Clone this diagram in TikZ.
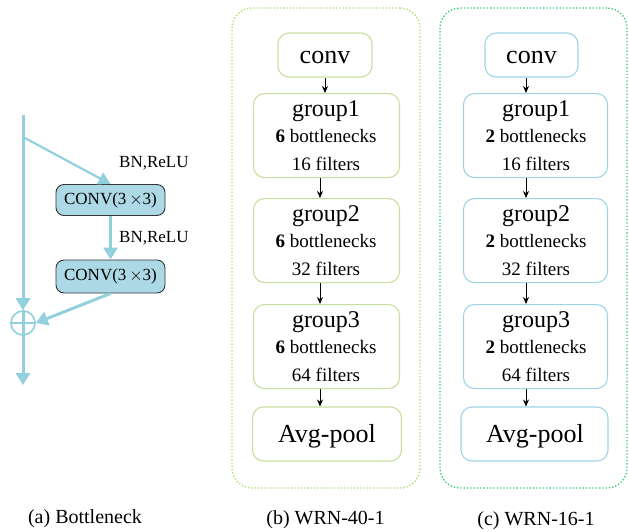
\documentclass[tikz,border=0pt]{standalone}
\usepackage{fontspec}
\setmainfont{Liberation Serif}
\usetikzlibrary{arrows.meta}
\definecolor{aline}{RGB}{146,208,222}
\definecolor{afill}{RGB}{173,216,230}
\definecolor{bbord}{RGB}{200,222,160}
\definecolor{cbord}{RGB}{160,212,228}
\definecolor{bdot}{RGB}{165,222,105}
\definecolor{cdot}{RGB}{50,200,110}
\newcommand{\fsbig}{\fontsize{26}{30}\selectfont}
\newcommand{\fsgrp}{\fontsize{24}{28}\selectfont}
\newcommand{\fssmall}{\fontsize{19}{22}\selectfont}
\newcommand{\fscap}{\fontsize{20}{24}\selectfont}
\newcommand{\fsa}{\fontsize{17}{20}\selectfont}
\tikzset{
  x=1pt, y=-1pt,
  convbox/.style={draw=black!80, fill=afill, rounded corners=8pt, line width=0.9pt, minimum width=109pt, minimum height=31pt, inner sep=0pt, font=\fsa},
  bluearrow/.style={draw=aline, line width=3pt, -{Triangle[width=14pt,length=12pt]}},
  bluethin/.style={draw=aline, line width=2.2pt, -{Triangle[width=13pt,length=12pt]}},
  alabel/.style={anchor=base west, font=\fsa, inner sep=0pt},
  bbox/.style={draw=bbord, rounded corners=11pt, line width=1.1pt, inner sep=0pt},
  cbox/.style={draw=cbord, rounded corners=11pt, line width=1.1pt, inner sep=0pt},
  frameb/.style={draw=bdot, dotted, line width=1.3pt, rounded corners=20pt},
  framec/.style={draw=cdot, dotted, line width=1.3pt, rounded corners=20pt},
  txt/.style={anchor=base, inner sep=0pt},
  flow/.style={draw=black, line width=0.8pt, -{Stealth[width=6pt,length=7pt]}},
  capt/.style={anchor=base, inner sep=0pt, font=\fscap}
}
\begin{document}
\begin{tikzpicture}
\useasboundingbox (0,0) rectangle (629,531);
% ---------- panel (a)
\coordinate (top) at (23,115);
\coordinate (split) at (23,137);
\coordinate (bottom) at (23,385);
\node[convbox] (c1) at (110.5,200) {CONV(3\,$\times$3)};
\node[convbox, minimum height=33pt] (c2) at (110.5,276.5) {CONV(3\,$\times$3)};
\node[draw=aline, line width=1.6pt, circle, minimum size=24pt, inner sep=0pt] (sum) at (23,323) {};
\draw[draw=aline, line width=1.6pt] (sum.west) -- (sum.east);
\draw[bluearrow] (top) -- (sum.north);
\draw[draw=aline, line width=3pt] (sum.north) -- (sum.south);
\draw[bluearrow] (sum.south) -- (bottom);
\draw[bluethin] (split) -- (c1.north);
\draw[bluearrow] (c1.south) -- (c2.north);
\draw[bluearrow] (c2.south) -- (sum.east);
\node[alabel] (l1) at (119,167) {BN,ReLU};
\node[alabel] (l2) at (119,242) {BN,ReLU};
\node[capt] (capa) at (85,523) {(a) Bottleneck};
% ---------- panel (b)
\node[frameb, minimum width=188pt, minimum height=480pt] (fb) at (326,248) {};
\node[bbox, minimum width=94pt, minimum height=44pt] (bconv) at (325,55) {};
\node[txt, font=\fsbig] (bconvt) at (325,63) {conv};
\foreach \i/\t/\f in {1/93/16,2/198/32,3/304/64}{
  \node[bbox, minimum width=146pt, minimum height=84pt, anchor=north] (bg\i) at (326.5,\t) {};
  \node[txt, font=\fsgrp] (bg\i a) at (326,\t+23) {group\i};
  \node[txt, font=\fssmall] (bg\i b) at (326,\t+49) {\textbf{6} bottlenecks};
  \node[txt, font=\fssmall] (bg\i c) at (326,\t+77) {\f\ filters};
}
\node[bbox, minimum width=149pt, minimum height=54pt] (bavg) at (327,434) {};
\node[txt, font=\fsbig] (bavgt) at (327,442.5) {Avg-pool};
\draw[flow] (bconv.south) -- (bg1.north -| bconv.south);
\draw[flow] ([xshift=-6.5pt]bg1.south) -- ([xshift=-6.5pt]bg2.north);
\draw[flow] ([xshift=-6.5pt]bg2.south) -- ([xshift=-6.5pt]bg3.north);
\draw[flow] ([xshift=-6.5pt]bg3.south) -- ([xshift=-6.5pt]bg3.south |- bavg.north);
\node[capt] (capb) at (325.5,524) {(b) WRN-40-1};
% ---------- panel (c)
\node[framec, minimum width=187pt, minimum height=480pt] (fc) at (533.5,248) {};
\node[cbox, minimum width=93pt, minimum height=44pt] (cconv) at (531.5,55) {};
\node[txt, font=\fsbig] (cconvt) at (531.5,63) {conv};
\foreach \i/\t/\f in {1/93/16,2/198/32,3/304/64}{
  \node[cbox, minimum width=144pt, minimum height=84pt, anchor=north] (cg\i) at (535.5,\t) {};
  \node[txt, font=\fsgrp] (cg\i a) at (536,\t+23) {group\i};
  \node[txt, font=\fssmall] (cg\i b) at (536,\t+49) {\textbf{2} bottlenecks};
  \node[txt, font=\fssmall] (cg\i c) at (536,\t+77) {\f\ filters};
}
\node[cbox, minimum width=147pt, minimum height=54pt] (cavg) at (534.5,434) {};
\node[txt, font=\fsbig] (cavgt) at (535,442.5) {Avg-pool};
\draw[flow] ([xshift=-5.5pt]cconv.south) -- ([xshift=-5.5pt]cconv.south |- cg1.north);
\draw[flow] ([xshift=-9.5pt]cg1.south) -- ([xshift=-9.5pt]cg2.north);
\draw[flow] ([xshift=-9.5pt]cg2.south) -- ([xshift=-9.5pt]cg3.north);
\draw[flow] ([xshift=-9.5pt]cg3.south) -- ([xshift=-9.5pt]cg3.south |- cavg.north);
\node[capt] (capc) at (536,525) {(c) WRN-16-1};
\end{tikzpicture}
\end{document}
